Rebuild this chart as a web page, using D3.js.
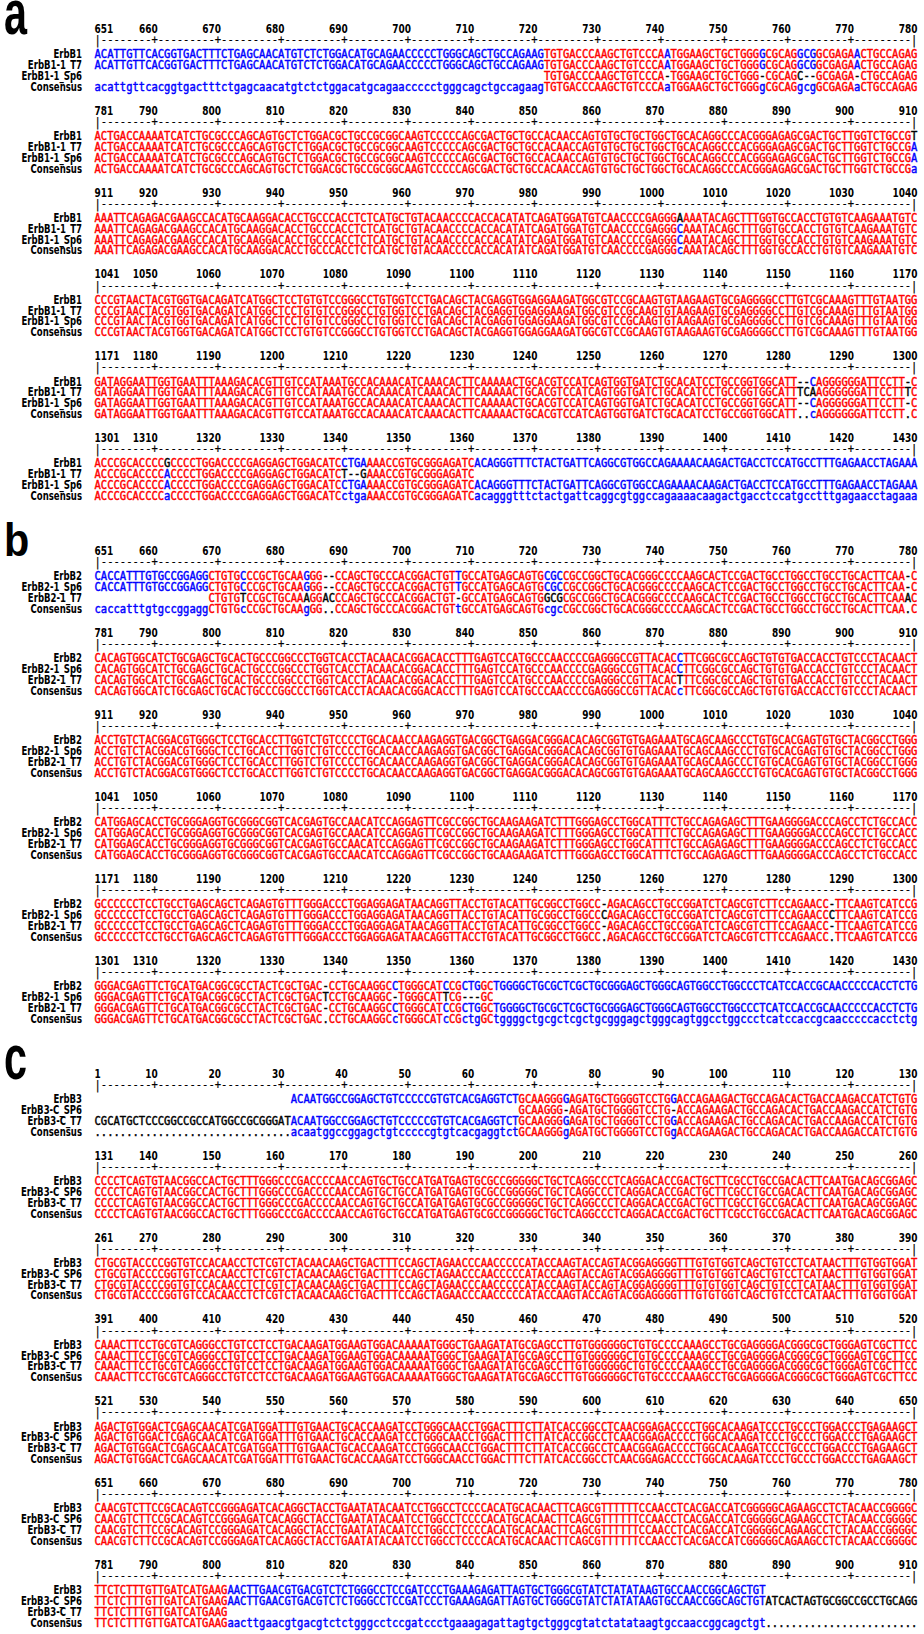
<!DOCTYPE html>
<html>
<head>
<meta charset="utf-8">
<script src="https://cdn.jsdelivr.net/npm/d3@7"></script>
<style>
  body { margin: 0; background: #fff; }
</style>
</head>
<body>
<svg id="fig" width="924" height="1634"></svg>
<script>
// MultAlin style alignment of the sequenced ErbB clones against the reference cDNAs
// every block = 130 columns, rows listed top to bottom as in the figure
const sp = n => " ".repeat(n);

// panel a : ErbB1
const erbb1Names = ["ErbB1", "ErbB1-1_T7", "ErbB1-1_Sp6"];
const erbb1Start = 651;
const erbb1Blocks = [
  ["ACATTGTTCACGGTGACTTTCTGAGCAACATGTCTCTGGACATGCAGAACCCCCTGGGCAGCTGCCAGAAGTGTGACCCAAGCTGTCCCAATGGAAGCTGCTGGGGCGCAGGCGGCGAGAACTGCCAGAG",
   "ACATTGTTCACGGTGACTTTCTGAGCAACATGTCTCTGGACATGCAGAACCCCCTGGGCAGCTGCCAGAAGTGTGACCCAAGCTGTCCCAATGGAAGCTGCTGGGGCGCAGGCGGCGAGAACTGCCAGAG",
   sp(71) + "TGTGACCCAAGCTGTCCCA-TGGAAGCTGCTGGG-CGCAGC--GCGAGA-CTGCCAGAG"],
  ["ACTGACCAAAATCATCTGCGCCCAGCAGTGCTCTGGACGCTGCCGCGGCAAGTCCCCCAGCGACTGCTGCCACAACCAGTGTGCTGCTGGCTGCACAGGCCCACGGGAGAGCGACTGCTTGGTCTGCCGT",
   "ACTGACCAAAATCATCTGCGCCCAGCAGTGCTCTGGACGCTGCCGCGGCAAGTCCCCCAGCGACTGCTGCCACAACCAGTGTGCTGCTGGCTGCACAGGCCCACGGGAGAGCGACTGCTTGGTCTGCCGA",
   "ACTGACCAAAATCATCTGCGCCCAGCAGTGCTCTGGACGCTGCCGCGGCAAGTCCCCCAGCGACTGCTGCCACAACCAGTGTGCTGCTGGCTGCACAGGCCCACGGGAGAGCGACTGCTTGGTCTGCCGA"],
  ["AAATTCAGAGACGAAGCCACATGCAAGGACACCTGCCCACCTCTCATGCTGTACAACCCCACCACATATCAGATGGATGTCAACCCCGAGGGAAAATACAGCTTTGGTGCCACCTGTGTCAAGAAATGTC",
   "AAATTCAGAGACGAAGCCACATGCAAGGACACCTGCCCACCTCTCATGCTGTACAACCCCACCACATATCAGATGGATGTCAACCCCGAGGGCAAATACAGCTTTGGTGCCACCTGTGTCAAGAAATGTC",
   "AAATTCAGAGACGAAGCCACATGCAAGGACACCTGCCCACCTCTCATGCTGTACAACCCCACCACATATCAGATGGATGTCAACCCCGAGGGCAAATACAGCTTTGGTGCCACCTGTGTCAAGAAATGTC"],
  ["CCCGTAACTACGTGGTGACAGATCATGGCTCCTGTGTCCGGGCCTGTGGTCCTGACAGCTACGAGGTGGAGGAAGATGGCGTCCGCAAGTGTAAGAAGTGCGAGGGGCCTTGTCGCAAAGTTTGTAATGG",
   "CCCGTAACTACGTGGTGACAGATCATGGCTCCTGTGTCCGGGCCTGTGGTCCTGACAGCTACGAGGTGGAGGAAGATGGCGTCCGCAAGTGTAAGAAGTGCGAGGGGCCTTGTCGCAAAGTTTGTAATGG",
   "CCCGTAACTACGTGGTGACAGATCATGGCTCCTGTGTCCGGGCCTGTGGTCCTGACAGCTACGAGGTGGAGGAAGATGGCGTCCGCAAGTGTAAGAAGTGCGAGGGGCCTTGTCGCAAAGTTTGTAATGG"],
  ["GATAGGAATTGGTGAATTTAAAGACACGTTGTCCATAAATGCCACAAACATCAAACACTTCAAAAACTGCACGTCCATCAGTGGTGATCTGCACATCCTGCCGGTGGCATT--CAGGGGGGATTCCTT-C",
   "GATAGGAATTGGTGAATTTAAAGACACGTTGTCCATAAATGCCACAAACATCAAACACTTCAAAAACTGCACGTCCATCAGTGGTGATCTGCACATCCTGCCGGTGGCATTTCAAGGGGGGATTCCTTTC",
   "GATAGGAATTGGTGAATTTAAAGACACGTTGTCCATAAATGCCACAAACATCAAACACTTCAAAAACTGCACGTCCATCAGTGGTGATCTGCACATCCTGCCGGTGGCATT--CAGGGGGGATTCCTT-C"],
  ["ACCCGCACCCCGCCCCTGGACCCCGAGGAGCTGGACATCCTGAAAACCGTGCGGGAGATCACAGGGTTTCTACTGATTCAGGCGTGGCCAGAAAACAAGACTGACCTCCATGCCTTTGAGAACCTAGAAA",
   "ACCCGCACCCCACCCCTGGACCCCGAGGAGCTGGACATCT--GAAACCGTGCGGGAGATC",
   "ACCCGCACCCCACCCCTGGACCCCGAGGAGCTGGACATCCTGAAAACCGTGCGGGAGATCACAGGGTTTCTACTGATTCAGGCGTGGCCAGAAAACAAGACTGACCTCCATGCCTTTGAGAACCTAGAAA"]
];

// panel b : ErbB2
const erbb2Names = ["ErbB2", "ErbB2-1_Sp6", "ErbB2-1_T7"];
const erbb2Start = 651;
const erbb2Blocks = [
  ["CACCATTTGTGCCGGAGGCTGTGCCCGCTGCAAGGG--CCAGCTGCCCACGGACTGTTGCCATGAGCAGTGCGCCGCCGGCTGCACGGGCCCCAAGCACTCCGACTGCCTGGCCTGCCTGCACTTCAA-C",
   "CACCATTTGTGCCGGAGGCTGTGCCCGCTGCAAGGG--CCAGCTGCCCACGGACTGTTGCCATGAGCAGTGCGCCGCCGGCTGCACGGGCCCCAAGCACTCCGACTGCCTGGCCTGCCTGCACTTCAA-C",
   sp(18) + "CTGTGTCCGCTGCAAAGGACCCAGCTGCCCACGGACTGT-GCCATGAGCAGTGGCGCGCCGGCTGCACGGGCCCCAAGCACTCCGACTGCCTGGCCTGCCTGCACTTCAAAC"],
  ["CACAGTGGCATCTGCGAGCTGCACTGCCCGGCCCTGGTCACCTACAACACGGACACCTTTGAGTCCATGCCCAACCCCGAGGGCCGTTACACCTTCGGCGCCAGCTGTGTGACCACCTGTCCCTACAACT",
   "CACAGTGGCATCTGCGAGCTGCACTGCCCGGCCCTGGTCACCTACAACACGGACACCTTTGAGTCCATGCCCAACCCCGAGGGCCGTTACACCTTCGGCGCCAGCTGTGTGACCACCTGTCCCTACAACT",
   "CACAGTGGCATCTGCGAGCTGCACTGCCCGGCCCTGGTCACCTACAACACGGACACCTTTGAGTCCATGCCCAACCCCGAGGGCCGTTACACTTTCGGCGCCAGCTGTGTGACCACCTGTCCCTACAACT"],
  ["ACCTGTCTACGGACGTGGGCTCCTGCACCTTGGTCTGTCCCCTGCACAACCAAGAGGTGACGGCTGAGGACGGGACACAGCGGTGTGAGAAATGCAGCAAGCCCTGTGCACGAGTGTGCTACGGCCTGGG",
   "ACCTGTCTACGGACGTGGGCTCCTGCACCTTGGTCTGTCCCCTGCACAACCAAGAGGTGACGGCTGAGGACGGGACACAGCGGTGTGAGAAATGCAGCAAGCCCTGTGCACGAGTGTGCTACGGCCTGGG",
   "ACCTGTCTACGGACGTGGGCTCCTGCACCTTGGTCTGTCCCCTGCACAACCAAGAGGTGACGGCTGAGGACGGGACACAGCGGTGTGAGAAATGCAGCAAGCCCTGTGCACGAGTGTGCTACGGCCTGGG"],
  ["CATGGAGCACCTGCGGGAGGTGCGGGCGGTCACGAGTGCCAACATCCAGGAGTTCGCCGGCTGCAAGAAGATCTTTGGGAGCCTGGCATTTCTGCCAGAGAGCTTTGAAGGGGACCCAGCCTCTGCCACC",
   "CATGGAGCACCTGCGGGAGGTGCGGGCGGTCACGAGTGCCAACATCCAGGAGTTCGCCGGCTGCAAGAAGATCTTTGGGAGCCTGGCATTTCTGCCAGAGAGCTTTGAAGGGGACCCAGCCTCTGCCACC",
   "CATGGAGCACCTGCGGGAGGTGCGGGCGGTCACGAGTGCCAACATCCAGGAGTTCGCCGGCTGCAAGAAGATCTTTGGGAGCCTGGCATTTCTGCCAGAGAGCTTTGAAGGGGACCCAGCCTCTGCCACC"],
  ["GCCCCCCTCCTGCCTGAGCAGCTCAGAGTGTTTGGGACCCTGGAGGAGATAACAGGTTACCTGTACATTGCGGCCTGGCC-AGACAGCCTGCCGGATCTCAGCGTCTTCCAGAACC-TTCAAGTCATCCG",
   "GCCCCCCTCCTGCCTGAGCAGCTCAGAGTGTTTGGGACCCTGGAGGAGATAACAGGTTACCTGTACATTGCGGCCTGGCCCAGACAGCCTGCCGGATCTCAGCGTCTTCCAGAACCCTTCAAGTCATCCG",
   "GCCCCCCTCCTGCCTGAGCAGCTCAGAGTGTTTGGGACCCTGGAGGAGATAACAGGTTACCTGTACATTGCGGCCTGGCC-AGACAGCCTGCCGGATCTCAGCGTCTTCCAGAACC-TTCAAGTCATCCG"],
  ["GGGACGAGTTCTGCATGACGGCGCCTACTCGCTGAC-CCTGCAAGGCCTGGGCATCCGCTGGCTGGGGCTGCGCTCGCTGCGGGAGCTGGGCAGTGGCCTGGCCCTCATCCACCGCAACCCCCACCTCTG",
   "GGGACGAGTTCTGCATGACGGCGCCTACTCGCTGACTCCTGCAAGGC-TGGGCATTCG---GC",
   "GGGACGAGTTCTGCATGACGGCGCCTACTCGCTGAC-CCTGCAAGGCCTGGGCATCCGCTGGCTGGGGCTGCGCTCGCTGCGGGAGCTGGGCAGTGGCCTGGCCCTCATCCACCGCAACCCCCACCTCTG"]
];

// panel c : ErbB3
const erbb3Names = ["ErbB3", "ErbB3-C_SP6", "ErbB3-C_T7"];
const erbb3Start = 1;
const erbb3Blocks = [
  [sp(31) + "ACAATGGCCGGAGCTGTCCCCCGTGTCACGAGGTCTGCAAGGGGAGATGCTGGGGTCCTGGACCAGAAGACTGCCAGACACTGACCAAGACCATCTGTG",
   sp(67) + "GCAAGGG-AGATGCTGGGGTCCTG-ACCAGAAGACTGCCAGACACTGACCAAGACCATCTGTG",
   "CGCATGCTCCCGGCCGCCATGGCCGCGGGATACAATGGCCGGAGCTGTCCCCCGTGTCACGAGGTCTGCAAGGGGAGATGCTGGGGTCCTGGACCAGAAGACTGCCAGACACTGACCAAGACCATCTGTG"],
  ["CCCCTCAGTGTAACGGCCACTGCTTTGGGCCCGACCCCAACCAGTGCTGCCATGATGAGTGCGCCGGGGGCTGCTCAGGCCCTCAGGACACCGACTGCTTCGCCTGCCGACACTTCAATGACAGCGGAGC",
   "CCCCTCAGTGTAACGGCCACTGCTTTGGGCCCGACCCCAACCAGTGCTGCCATGATGAGTGCGCCGGGGGCTGCTCAGGCCCTCAGGACACCGACTGCTTCGCCTGCCGACACTTCAATGACAGCGGAGC",
   "CCCCTCAGTGTAACGGCCACTGCTTTGGGCCCGACCCCAACCAGTGCTGCCATGATGAGTGCGCCGGGGGCTGCTCAGGCCCTCAGGACACCGACTGCTTCGCCTGCCGACACTTCAATGACAGCGGAGC"],
  ["CTGCGTACCCCGGTGTCCACAACCTCTCGTCTACAACAAGCTGACTTTCCAGCTAGAACCCAACCCCCATACCAAGTACCAGTACGGAGGGGTTTGTGTGGTCAGCTGTCCTCATAACTTTGTGGTGGAT",
   "CTGCGTACCCCGGTGTCCACAACCTCTCGTCTACAACAAGCTGACTTTCCAGCTAGAACCCAACCCCCATACCAAGTACCAGTACGGAGGGGTTTGTGTGGTCAGCTGTCCTCATAACTTTGTGGTGGAT",
   "CTGCGTACCCCGGTGTCCACAACCTCTCGTCTACAACAAGCTGACTTTCCAGCTAGAACCCAACCCCCATACCAAGTACCAGTACGGAGGGGTTTGTGTGGTCAGCTGTCCTCATAACTTTGTGGTGGAT"],
  ["CAAACTTCCTGCGTCAGGGCCTGTCCTCCTGACAAGATGGAAGTGGACAAAAATGGGCTGAAGATATGCGAGCCTTGTGGGGGGCTGTGCCCCAAAGCCTGCGAGGGGACGGGCGCTGGGAGTCGCTTCC",
   "CAAACTTCCTGCGTCAGGGCCTGTCCTCCTGACAAGATGGAAGTGGACAAAAATGGGCTGAAGATATGCGAGCCTTGTGGGGGGCTGTGCCCCAAAGCCTGCGAGGGGACGGGCGCTGGGAGTCGCTTCC",
   "CAAACTTCCTGCGTCAGGGCCTGTCCTCCTGACAAGATGGAAGTGGACAAAAATGGGCTGAAGATATGCGAGCCTTGTGGGGGGCTGTGCCCCAAAGCCTGCGAGGGGACGGGCGCTGGGAGTCGCTTCC"],
  ["AGACTGTGGACTCGAGCAACATCGATGGATTTGTGAACTGCACCAAGATCCTGGGCAACCTGGACTTTCTTATCACCGGCCTCAACGGAGACCCCTGGCACAAGATCCCTGCCCTGGACCCTGAGAAGCT",
   "AGACTGTGGACTCGAGCAACATCGATGGATTTGTGAACTGCACCAAGATCCTGGGCAACCTGGACTTTCTTATCACCGGCCTCAACGGAGACCCCTGGCACAAGATCCCTGCCCTGGACCCTGAGAAGCT",
   "AGACTGTGGACTCGAGCAACATCGATGGATTTGTGAACTGCACCAAGATCCTGGGCAACCTGGACTTTCTTATCACCGGCCTCAACGGAGACCCCTGGCACAAGATCCCTGCCCTGGACCCTGAGAAGCT"],
  ["CAACGTCTTCCGCACAGTCCGGGAGATCACAGGCTACCTGAATATACAATCCTGGCCTCCCCACATGCACAACTTCAGCGTTTTTTCCAACCTCACGACCATCGGGGGCAGAAGCCTCTACAACCGGGGC",
   "CAACGTCTTCCGCACAGTCCGGGAGATCACAGGCTACCTGAATATACAATCCTGGCCTCCCCACATGCACAACTTCAGCGTTTTTTCCAACCTCACGACCATCGGGGGCAGAAGCCTCTACAACCGGGGC",
   "CAACGTCTTCCGCACAGTCCGGGAGATCACAGGCTACCTGAATATACAATCCTGGCCTCCCCACATGCACAACTTCAGCGTTTTTTCCAACCTCACGACCATCGGGGGCAGAAGCCTCTACAACCGGGGC"],
  ["TTCTCTTTGTTGATCATGAAGAACTTGAACGTGACGTCTCTGGGCCTCCGATCCCTGAAAGAGATTAGTGCTGGGCGTATCTATATAAGTGCCAACCGGCAGCTGT",
   "TTCTCTTTGTTGATCATGAAGAACTTGAACGTGACGTCTCTGGGCCTCCGATCCCTGAAAGAGATTAGTGCTGGGCGTATCTATATAAGTGCCAACCGGCAGCTGTATCACTAGTGCGGCCGCCTGCAGG",
   "TTCTCTTTGTTGATCATGAAG"]
];

const panelTags = ["a", "b", "c"];

// ---- layout ----
const W = 924, H = 1634;
const nCols = 130;
const cell = 6.33;
const seqLeft = 94.5;
const labelRight = 82;
const blockStep = 81.9;      // distance between two blocks of one panel
const panelStep = 113;       // distance last block -> first block of next panel
const firstNumY = 28.5;      // centre of the first ruler number row
const rulerDy = 11.5;
const rowDy = [25.3, 36.2, 47.1, 58.0];
const seqStretch = 1.12;     // the original bitmap font is taller than wide

const RED = "#ff0000", BLUE = "#0000ff", BLACK = "#000000";
const seqFont = "'DejaVu Sans Mono', monospace";
const labFont = "'DejaVu Sans Condensed', 'DejaVu Sans', sans-serif";

const x = d3.scaleLinear().domain([0, nCols]).range([seqLeft, seqLeft + nCols * cell]);

const svg = d3.select("#fig");
svg.append("rect").attr("width", W).attr("height", H).attr("fill", "#fff");

const panels = [
  {tag: panelTags[0], names: erbb1Names, start: erbb1Start, blocks: erbb1Blocks},
  {tag: panelTags[1], names: erbb2Names, start: erbb2Start, blocks: erbb2Blocks},
  {tag: panelTags[2], names: erbb3Names, start: erbb3Start, blocks: erbb3Blocks}
];

// consensus of one column (3 sequences): all agree = high, two agree = low
function colInfo(chars) {
  const counts = d3.rollup(chars, v => v.length, c => c);
  let best = null, n = 0;
  for (const [c, k] of counts) if (k > n) { best = c; n = k; }
  if (best === " " && n === 3) return {sym: " ", level: 0};
  if (best === " " || best === "-" || n < 2) return {sym: ".", level: 0};
  return {sym: best, level: n === 3 ? 2 : 1};
}

function colorOf(c, info) {
  if (info.level > 0 && c === info.sym) return info.level === 2 ? RED : BLUE;
  return BLACK;
}

// groups a row of {c, color} into tspans with one x per glyph
function toRuns(items) {
  const out = [];
  items.forEach((d, i) => {
    if (d.c === " ") return;
    const last = out[out.length - 1];
    if (last && last.color === d.color && last.end === i) {
      last.text += d.c; last.xs.push(x(i)); last.end = i + 1;
    } else {
      out.push({color: d.color, text: d.c, xs: [x(i)], end: i + 1});
    }
  });
  return out;
}

function drawRow(g, items, y, thick) {
  g.append("text")
    .attr("transform", `translate(0,${y.toFixed(2)}) scale(1,${seqStretch})`)
    .attr("font-family", seqFont)
    .attr("font-size", 10.5)
    .attr("stroke-width", thick === undefined ? 0.4 : thick)
    .selectAll("tspan")
    .data(toRuns(items))
    .join("tspan")
      .attr("x", d => d.xs.map(v => v.toFixed(2)).join(" "))
      .attr("fill", d => d.color)
      .attr("stroke", d => d.color)
      .text(d => d.text);
}

function drawBlock(g, names, rows, first) {
  const seqs = rows.map(s => s.padEnd(nCols, " ").slice(0, nCols));
  const cols = d3.range(nCols).map(i => colInfo(seqs.map(s => s[i])));

  // ruler numbers
  const tickCols = d3.range(nCols).filter(i => (first + i) % 10 === 0);
  const num = g.append("g")
    .attr("transform", "translate(0,4.2) scale(1,1.2)")
    .attr("font-family", labFont)
    .attr("font-size", 10)
    .attr("font-weight", "bold")
    .attr("fill", BLACK);
  num.append("text").attr("x", x(0)).attr("y", 0).text(first);
  num.selectAll("text.tk")
    .data(tickCols)
    .join("text")
      .attr("class", "tk")
      .attr("x", i => x(i + 1))
      .attr("y", 0)
      .attr("text-anchor", "end")
      .text(i => first + i);

  // ruler line
  const ruler = d3.range(nCols).map(i =>
    ({c: (i === 0 || i === nCols - 1) ? "|" : ((first + i) % 10 === 0 ? "+" : "-"), color: BLACK}));
  drawRow(g, ruler, rulerDy + 3.8, 0.2);

  // sequences
  seqs.forEach((s, r) => {
    const items = s.split("").map((c, i) => ({c, color: colorOf(c, cols[i])}));
    drawRow(g, items, rowDy[r] + 4.1);
  });

  // consensus
  const cons = cols.map(d => ({
    c: d.level === 2 ? d.sym : (d.level === 1 ? d.sym.toLowerCase() : d.sym),
    color: d.level === 2 ? RED : (d.level === 1 ? BLUE : BLACK)
  }));
  drawRow(g, cons, rowDy[3] + 4.1);

  // row labels
  g.append("g")
    .attr("font-family", labFont)
    .attr("font-size", 9.5)
    .attr("font-weight", "bold")
    .attr("text-anchor", "end")
    .selectAll("text")
    .data(names.concat(["Consensus"]))
    .join("text")
      .attr("transform", (d, r) => `translate(${labelRight},${(rowDy[r] + 4.1).toFixed(2)}) scale(1,1.2)`)
      .text(d => d);
}

let yNum = firstNumY;
panels.forEach((p, pi) => {
  if (pi > 0) yNum += panelStep - blockStep;
  // panel letter; a and c are drawn taller, as in the original figure
  const stretchY = p.tag === "b" ? 1.0 : 1.35;
  svg.append("text")
    .attr("transform", `translate(4,${(yNum + 5).toFixed(2)}) scale(0.9,${stretchY})`)
    .attr("font-family", "'Liberation Sans', Arial, sans-serif")
    .attr("font-weight", "bold")
    .attr("font-size", 46)
    .text(p.tag);
  p.blocks.forEach((blk, bi) => {
    const g = svg.append("g").attr("transform", `translate(0,${yNum.toFixed(2)})`);
    drawBlock(g, p.names, blk, p.start + bi * nCols);
    yNum += blockStep;
  });
});
</script>
</body>
</html>
